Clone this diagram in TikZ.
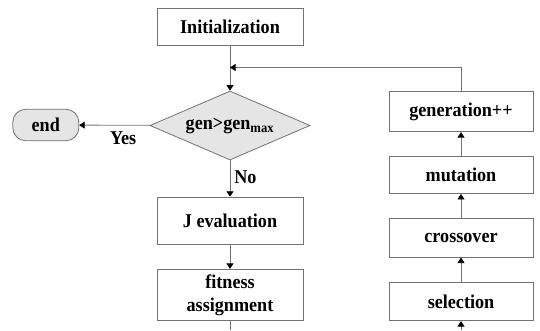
\documentclass[tikz,border=0pt]{standalone}
\usepackage{fontspec}
\setmainfont[FakeStretch=0.93]{Liberation Serif}
\usetikzlibrary{arrows.meta,positioning,shapes,shapes.geometric}

\begin{document}
\begin{tikzpicture}[x=1pt,y=-1pt]
\useasboundingbox (0,0) rectangle (540,330);
\tikzstyle{pbox}=[draw=black!55, line width=0.8pt, minimum width=146pt,
  minimum height=37pt, align=center, fill=white, inner sep=2pt,
  font=\fontsize{19.5}{23}\selectfont\bfseries]
\tikzstyle{pline}=[draw=black!55, line width=0.8pt]
\tikzstyle{parrow}=[pline, -{Triangle[length=5.5pt,width=7pt,color=black]}]
% left column
\node[pbox] (init) at (230,27.3) {Initialization};
\node[pbox, diamond, aspect=2.32, minimum width=160pt, minimum height=69pt,
  inner sep=0pt, fill=black!10] (cond) at (230,125.5)
  {gen>gen\textsubscript{max}};
\node[pbox, rounded corners=13pt, minimum width=66pt, minimum height=31.5pt,
  fill=black!10] (stop) at (45.8,125) {end};
\node[pbox, minimum height=47.7pt] (jeval) at (230,221) {J evaluation};
\node[pbox, minimum height=51.4pt] (fit) at (230,295) {fitness\\assignment};
% right column
\node[pbox, minimum width=144pt, minimum height=40pt] (gen) at (461,111.7) {generation++};
\node[pbox, minimum width=144pt] (mut) at (461,175) {mutation};
\node[pbox, minimum width=144pt, minimum height=38.3pt] (cross) at (461,238) {crossover};
\node[pbox, minimum width=144pt, minimum height=38pt] (sel) at (461,301.7) {selection};
\coordinate (merge) at (230,67.5);
\coordinate (fitout) at (230,330);
\coordinate (selin) at (461,330);
\tikzstyle{plabel}=[font=\fontsize{19.5}{23}\selectfont\bfseries, inner sep=1pt]
\draw[pline] (init) -- (merge);
\draw[parrow] (merge) -- (cond);
\draw[parrow] (gen.north) |- (merge);
\draw[parrow] (cond) -- node[plabel, below=5pt, pos=0.38] {Yes} (stop);
\draw[parrow] (cond) -- node[plabel, right=3pt, pos=0.46] {No} (jeval);
\draw[parrow] (jeval) -- (fit);
\draw[pline] (fit) -- (fitout);
\draw[parrow] (selin) -- (sel);
\draw[parrow] (sel) -- (cross);
\draw[parrow] (cross) -- (mut);
\draw[parrow] (mut) -- (gen);
\end{tikzpicture}
\end{document}
